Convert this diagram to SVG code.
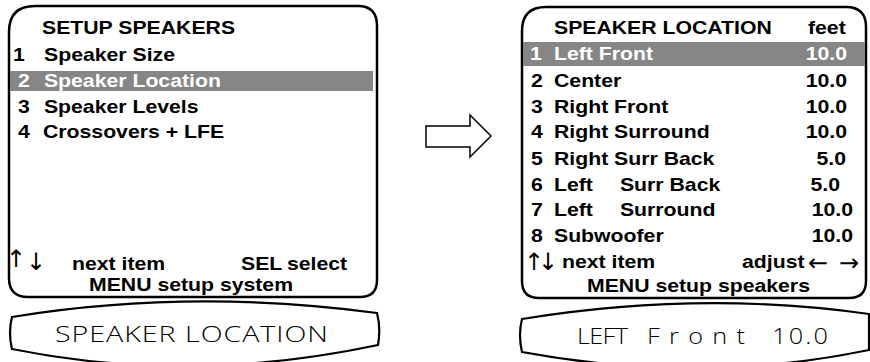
<svg xmlns="http://www.w3.org/2000/svg" width="870" height="362" viewBox="0 0 870 362">
<style>
.panel{fill:#fff;stroke:#000;stroke-width:2.5}
.disp{fill:#fff;stroke:#000;stroke-width:2.2}
.hl{fill:#868686}
.b{font-family:"Liberation Sans",Arial,sans-serif;font-weight:bold;font-size:18px;fill:#000}
.w{fill:#fff}
.ar{font-family:"DejaVu Sans",sans-serif;font-size:24px;fill:#000}
.lcd{font-family:"Open Sans","Liberation Sans",sans-serif;font-weight:300;font-size:22px;fill:#000}
.conn{fill:#fff;stroke:#000;stroke-width:1.5}
</style>
<g id="menu-setup-speakers">
<path class="panel" d="M35,6 H358 Q377,6 377,26 V280 Q377,297 360,297 H28 Q9,297 9,278 V32 Q9,6 35,6 Z"/>
<rect class="hl" x="10" y="71" width="363" height="20"/>
<text class="b" transform="translate(42,34) scale(1.18,1)">SETUP SPEAKERS</text>
<text class="b" transform="translate(13,61) scale(1.18,1)">1<tspan x="26.3">Speaker Size</tspan></text>
<text class="b w" transform="translate(18,87) scale(1.18,1)">2<tspan x="22">Speaker Location</tspan></text>
<text class="b" transform="translate(18,113) scale(1.18,1)">3<tspan x="22">Speaker Levels</tspan></text>
<text class="b" transform="translate(18,138) scale(1.18,1)">4<tspan x="21.2">Crossovers + LFE</tspan></text>
<text class="ar" x="6" y="267" font-size="31">↑</text>
<text class="ar" x="26" y="270" font-size="31">↓</text>
<text class="b" transform="translate(72,270) scale(1.18,1)">next item</text>
<text class="b" transform="translate(241,270) scale(1.18,1)">SEL<tspan x="39">select</tspan></text>
<text class="b" transform="translate(89,291) scale(1.18,1)">MENU setup system</text>
</g>
<g id="display-left">
<path class="disp" d="M12,317 Q190,288 377,313 Q381,328 378,345 Q190,385 12,349 Q8,333 12,317 Z"/>
<text class="lcd" transform="translate(55,342) scale(1.3,1)" textLength="210" lengthAdjust="spacing">SPEAKER LOCATION</text>
</g>
<g id="menu-speaker-location">
<path class="panel" d="M546,7 H846 Q866,7 866,27 V281 Q866,298 849,298 H539 Q522,298 522,281 V31 Q522,7 546,7 Z"/>
<rect class="hl" x="523" y="42" width="342" height="24"/>
<text class="b" transform="translate(554,34) scale(1.18,1)">SPEAKER LOCATION</text>
<text class="b" transform="translate(808,34) scale(1.18,1)">feet</text>
<text class="b w" transform="translate(530,60) scale(1.18,1)">1<tspan x="20.3">Left Front</tspan></text>
<text class="b w" text-anchor="end" transform="translate(847,60) scale(1.18,1)">10.0</text>
<text class="b" transform="translate(531,87) scale(1.18,1)">2<tspan x="19.5">Center</tspan></text>
<text class="b" text-anchor="end" transform="translate(847,87) scale(1.18,1)">10.0</text>
<text class="b" transform="translate(531,113) scale(1.18,1)">3<tspan x="19.5">Right Front</tspan></text>
<text class="b" text-anchor="end" transform="translate(847,113) scale(1.18,1)">10.0</text>
<text class="b" transform="translate(531,138) scale(1.18,1)">4<tspan x="19.5">Right Surround</tspan></text>
<text class="b" text-anchor="end" transform="translate(847,138) scale(1.18,1)">10.0</text>
<text class="b" transform="translate(531,165) scale(1.18,1)">5<tspan x="19.5">Right Surr Back</tspan></text>
<text class="b" text-anchor="end" transform="translate(846,165) scale(1.18,1)">5.0</text>
<text class="b" transform="translate(531,191) scale(1.18,1)">6<tspan x="19.5">Left</tspan><tspan x="75.4">Surr Back</tspan></text>
<text class="b" text-anchor="end" transform="translate(840,191) scale(1.18,1)">5.0</text>
<text class="b" transform="translate(531,216) scale(1.18,1)">7<tspan x="19.5">Left</tspan><tspan x="75.4">Surround</tspan></text>
<text class="b" text-anchor="end" transform="translate(853,216) scale(1.18,1)">10.0</text>
<text class="b" transform="translate(531,242) scale(1.18,1)">8<tspan x="19.5">Subwoofer</tspan></text>
<text class="b" text-anchor="end" transform="translate(853,242) scale(1.18,1)">10.0</text>
<text class="ar" x="524" y="270" font-size="18" letter-spacing="-6">↑↓</text>
<text class="b" transform="translate(562,268) scale(1.18,1)">next item</text>
<text class="b" transform="translate(742,268) scale(1.18,1)">adjust</text>
<text class="ar" x="808" y="271" font-size="26">←<tspan x="839">→</tspan></text>
<text class="b" transform="translate(587,292) scale(1.18,1)">MENU setup speakers</text>
</g>
<g id="display-right">
<path class="disp" d="M522,319 Q700,290 869,314 L869,350 Q700,385 522,352 Q518,335 522,319 Z"/>
<text class="lcd" transform="translate(0,344) scale(1.15,1)"><tspan x="501.7" textLength="44.3" lengthAdjust="spacing">LEFT</tspan> <tspan x="562.6" textLength="85.2" lengthAdjust="spacing">Front</tspan> <tspan x="671.3" textLength="48.7" lengthAdjust="spacing">10.0</tspan></text>
</g>
<g id="connectors">
<polygon class="conn" points="426,126 470,126 470,115 491,136 470,157 470,147 426,147"/>
</g>
</svg>
